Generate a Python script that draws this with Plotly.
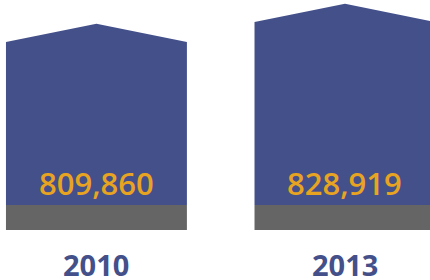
import plotly.graph_objects as go

years = ["2010", "2013"]
values = [809860, 828919]
value_labels = ["809,860", "828,919"]

BLUE = "#43508A"
GREY = "#656565"
ORANGE = "#E8A421"

# layout / style constants (axis units)
BASE = 654500      # where the house body starts (truncated axis)
GROUND = 630700    # bottom of grey foundation
ROOF = 17500       # roof height
HALF_W = 0.364     # half bar width in x units
Y_RANGE = [583000, 850000]
X_RANGE = [-0.388, 1.342]

xs = list(range(len(years)))

fig = go.Figure()

# grey foundation
fig.add_trace(go.Bar(
    x=xs, y=[BASE - GROUND] * len(xs), base=[GROUND] * len(xs),
    width=2 * HALF_W, marker=dict(color=GREY, line=dict(width=0)),
    hoverinfo="skip", showlegend=False))

# house body
fig.add_trace(go.Bar(
    x=xs, y=[v - BASE for v in values], base=[BASE] * len(xs),
    width=2 * HALF_W, marker=dict(color=BLUE, line=dict(width=0)),
    hoverinfo="skip", showlegend=False))

# roofs
for x, v in zip(xs, values):
    fig.add_trace(go.Scatter(
        x=[x - HALF_W, x, x + HALF_W, x - HALF_W],
        y=[v, v + ROOF, v, v],
        mode="lines", fill="toself", fillcolor=BLUE,
        line=dict(width=0, color=BLUE), hoverinfo="skip", showlegend=False))

annotations = []
for x, lab, yr in zip(xs, value_labels, years):
    annotations.append(dict(
        x=x, y=1 - 182.5 / 280, xref="x", yref="paper",
        text=lab, showarrow=False, yanchor="middle", xanchor="center",
        font=dict(family="Open Sans", size=31, weight=600, color=ORANGE)))
    annotations.append(dict(
        x=x, y=1 - 264.5 / 280, xref="x", yref="paper",
        text="<b>" + yr + "</b>", showarrow=False, yanchor="middle", xanchor="center",
        font=dict(family="Open Sans", size=29, color=BLUE)))

fig.update_layout(
    width=430, height=280,
    margin=dict(l=0, r=0, t=0, b=0),
    paper_bgcolor="white", plot_bgcolor="white",
    barmode="overlay",
    xaxis=dict(range=X_RANGE, visible=False, fixedrange=True),
    yaxis=dict(range=Y_RANGE, visible=False, fixedrange=True),
    annotations=annotations,
    showlegend=False,
)

fig.write_html(
    "out.html",
    config={"displayModeBar": False},
    post_script="document.body.style.margin='0';document.body.style.overflow='hidden';",
)
